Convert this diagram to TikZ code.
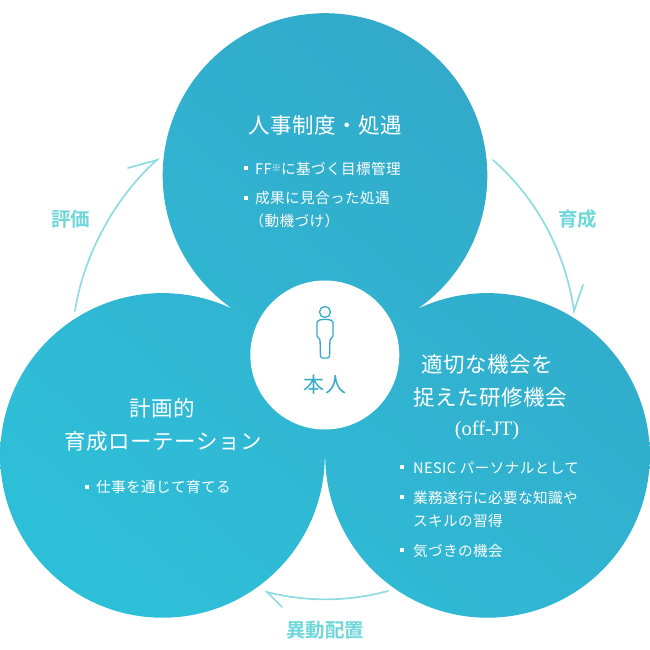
\documentclass[tikz,border=0pt]{standalone}
\usepackage{fontspec}
\newfontfamily\headfont[LetterSpace=2.5]{Noto Sans CJK JP}
\newfontfamily\bodyfont[LetterSpace=2.7]{Noto Sans CJK JP}
\newfontfamily\labelfont[BoldFont={Noto Sans CJK JP Bold}]{Noto Sans CJK JP}
\newfontfamily\latinserif{Liberation Serif}
\definecolor{circleLight}{HTML}{2EBFD8}
\definecolor{circleDeep}{HTML}{33A8C9}
\definecolor{flowLine}{HTML}{8EDCE0}
\definecolor{flowText}{HTML}{6FD7D9}
\definecolor{selfInk}{HTML}{35A9C9}
\tikzset{
  hub/.style={circle,minimum size=149pt,inner sep=0pt,fill=white},
  heading/.style={text=white,inner sep=0pt,font=\headfont\fontsize{21.5}{21.5}\selectfont},
  item/.style={text=white,inner sep=0pt,anchor=west,font=\bodyfont\fontsize{14.6}{14.6}\selectfont},
  tick/.style={fill=white,minimum size=4pt,inner sep=0pt},
  flow/.style={draw=flowLine,line width=1.7pt,line join=miter,line cap=round},
  flowlabel/.style={text=flowText,inner sep=0pt,font=\labelfont\bfseries\fontsize{19.5}{20}\selectfont},
  figure/.style={draw=selfInk,line width=1.3pt},
  sheet/.style={left color=circleLight,right color=circleDeep,shading angle=140}
}
\begin{document}
\begin{tikzpicture}[x=1pt,y=-1pt]
\useasboundingbox (0,0) rectangle (650,650);

% three petals share one diagonal gradient
\begin{scope}
  \clip (325,175.5) circle[radius=162.3pt] (162.5,455.4) circle[radius=162.3pt] (487.5,455.4) circle[radius=162.3pt];
  \shade[sheet] (0,0) rectangle (650,650);
\end{scope}
% the pocket between the petals, behind the hub
\begin{scope}
  \clip (240,313) -- (410,313) -- (325,458) -- cycle;
  \shade[sheet] (0,0) rectangle (650,650);
\end{scope}
\node[hub] (self) at (324.8,355) {};

% person figure
\node[circle,figure,minimum size=11pt,inner sep=0pt] (head) at (325,312) {};
\draw[figure,rounded corners=1.5pt] (321,319.5) -- (329,319.5) -- (333,321) -- (333,337.5) -- (330,338.5)
  -- (329.5,358) -- (320.5,358) -- (320,338.5) -- (317,337.5) -- (317,321) -- cycle;
\node[inner sep=0pt,text=selfInk,font=\headfont\fontsize{21}{21}\selectfont] (selfname) at (325,385) {本人};

% top petal
\node[heading] (topTitle) at (325,125) {人事制度・処遇};
\node[tick] (t1) at (245.5,168) {};
\node[item] (topA) at (255,168.5) {FF\raisebox{3pt}{\labelfont\bfseries\fontsize{9.5}{10}\selectfont ※}に基づく目標管理};
\node[tick] (t2) at (245.5,198) {};
\node[item] (topB) at (255,198.5) {成果に見合った処遇};
\node[item] (topC) at (249.5,220.5) {（動機づけ）};

% right petal
\node[heading] (rightTitleA) at (487,364) {適切な機会を};
\node[heading] (rightTitleB) at (490.5,397) {捉えた研修機会};
\node[inner sep=0pt,text=white,font=\latinserif\fontsize{20.5}{21}\selectfont] (rightTitleC) at (487,430) {(off-JT)};
\node[tick] (r1) at (401.5,467) {};
\node[item] (rightA) at (413,467.5) {NESIC パーソナルとして};
\node[tick] (r2) at (401.5,497) {};
\node[item] (rightB) at (413,497.5) {業務遂行に必要な知識や};
\node[item] (rightC) at (413,520.5) {スキルの習得};
\node[tick] (r3) at (401.5,550) {};
\node[item] (rightD) at (413,550.5) {気づきの機会};

% left petal
\node[heading] (leftTitleA) at (162.5,408) {計画的};
\node[heading] (leftTitleB) at (163,441) {育成ローテーション};
\node[tick] (l1) at (86.5,487) {};
\node[item] (leftA) at (96,487) {仕事を通じて育てる};

% flow arrows, each with a single barb at its tip
\coordinate (evalStart) at (75,311);
\coordinate (evalTip) at (157,160);
\coordinate (evalBarb) at (128,168);
\draw[flow] (evalStart) .. controls (84,252) and (118,194) .. (evalTip) -- (evalBarb);

\coordinate (growStart) at (493,160);
\coordinate (growTip) at (574,311);
\coordinate (growBarb) at (583,285);
\draw[flow] (growStart) .. controls (535,197) and (565,249) .. (growTip) -- (growBarb);

\coordinate (moveStart) at (388,591);
\coordinate (moveTip) at (267,592);
\coordinate (moveBarb) at (282,607);
\draw[flow] (moveStart) .. controls (347,602) and (306,602) .. (moveTip) -- (moveBarb);

\node[flowlabel] (evalLabel) at (70.5,219) {評価};
\node[flowlabel] (growLabel) at (577.5,219) {育成};
\node[flowlabel] (moveLabel) at (325,630) {異動配置};
\end{tikzpicture}
\end{document}
